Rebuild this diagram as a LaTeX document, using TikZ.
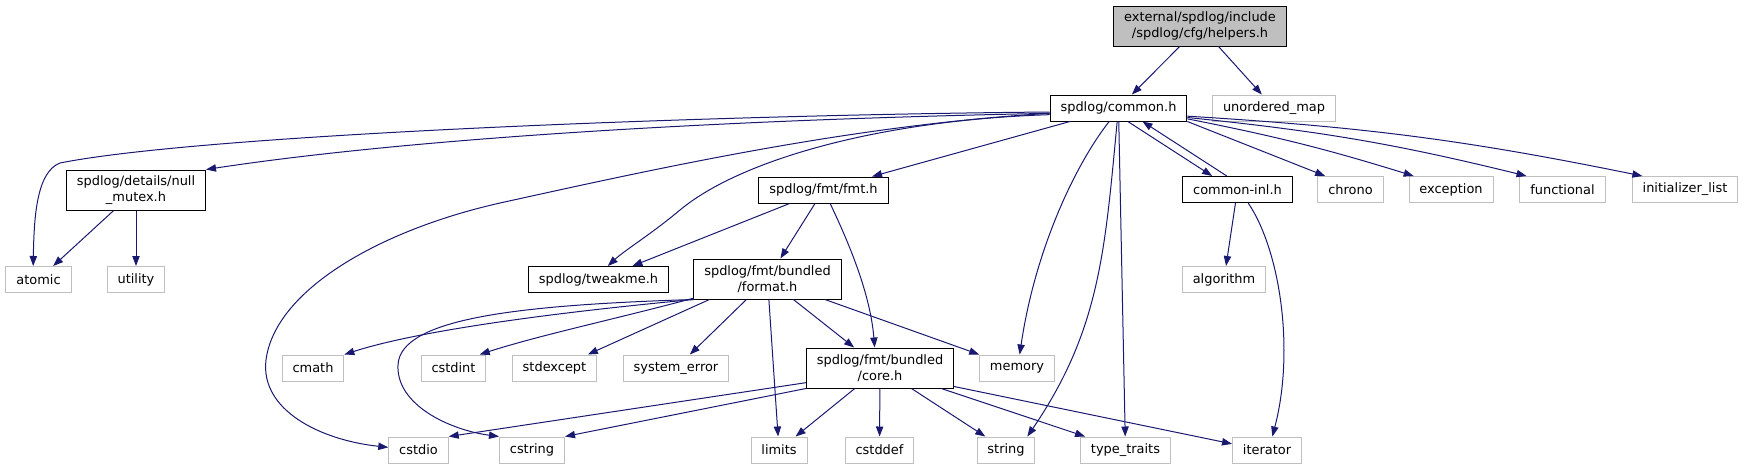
\documentclass[tikz,border=0pt]{standalone}
\usepackage{fontspec}
\setmainfont{DejaVu Sans}
\usetikzlibrary{arrows.meta}
\definecolor{edgeblue}{RGB}{25,25,112}
\definecolor{grey75}{RGB}{191,191,191}
\begin{document}
\begin{tikzpicture}[x=0.75pt, y=-0.75pt, >={Triangle[length=7.5pt,width=5.5pt]},
  doc/.style={draw=black, line width=0.75pt, inner xsep=7.8pt, minimum height=19.5pt,
    align=center, font=\fontsize{9.7}{11.7}\selectfont},
  sys/.style={doc, draw=grey75},
  two/.style={minimum height=30pt},
  dep/.style={->, draw=edgeblue, line width=0.75pt}]
  \useasboundingbox (0,0) rectangle (1746,469);
  % row 1 and 2
  \node[doc, two, fill=grey75] (helpers) at (1200,26) {external/spdlog/include\\/spdlog/cfg/helpers.h};
  \node[doc] (common) at (1118.5,108) {spdlog/common.h};
  \node[sys] (umap) at (1274,108) {unordered\_map};
  % row 3
  \node[doc, two] (nullmutex) at (136,190) {spdlog/details/null\\\_mutex.h};
  \node[doc] (fmt) at (823.5,190) {spdlog/fmt/fmt.h};
  \node[doc] (commoninl) at (1237.5,189.5) {common-inl.h};
  \node[sys] (chrono) at (1350.5,189.5) {chrono};
  \node[sys] (exception) at (1451,189.5) {exception};
  \node[sys] (functional) at (1562.5,189.5) {functional};
  \node[sys] (initlist) at (1685,189.5) {initializer\_list};
  % row 4
  \node[sys] (atomic) at (38.5,279.5) {atomic};
  \node[sys] (utility) at (136,279.5) {utility};
  \node[doc] (tweakme) at (598.5,279.5) {spdlog/tweakme.h};
  \node[doc, two] (format) at (767.5,279) {spdlog/fmt/bundled\\/format.h};
  \node[sys] (algorithm) at (1224,279.5) {algorithm};
  % row 5
  \node[sys] (cmath) at (313,368) {cmath};
  \node[sys] (cstdint) at (453.5,368) {cstdint};
  \node[sys] (stdexcept) at (554.5,368) {stdexcept};
  \node[sys] (syserror) at (676,368) {system\_error};
  \node[doc, two] (core) at (880,368) {spdlog/fmt/bundled\\/core.h};
  \node[sys] (memory) at (1017,368) {memory};
  % row 6
  \node[sys] (cstdio) at (418.5,450) {cstdio};
  \node[sys] (cstring) at (532,450) {cstring};
  \node[sys] (limits) at (779,450) {limits};
  \node[sys] (cstddef) at (879.5,450) {cstddef};
  \node[sys] (string) at (1006,450) {string};
  \node[sys] (typetraits) at (1125.5,450) {type\_traits};
  \node[sys] (iterator) at (1267,450) {iterator};
  % helpers.h
  \draw[dep] (helpers) -- (common);
  \draw[dep] (helpers) -- (umap);
  % common.h
  \draw[dep] ([yshift=-3pt]common.west) .. controls (700,115) and (200,135) .. (60,163)
    .. controls (36,172) and (34,220) .. ([xshift=-4pt]atomic.north);
  \draw[dep] ([yshift=-4pt]common.west) .. controls (700,120) and (400,140) .. (nullmutex.north east);
  \draw[dep] ([yshift=-4pt]common.west) .. controls (850,125) and (650,170) .. (500,203)
    .. controls (380,230) and (275,290) .. (266,360)
    .. controls (260,410) and (320,440) .. ([yshift=2pt]cstdio.west);
  \draw[dep] ([yshift=-5pt]common.west) .. controls (880,120) and (740,160) .. (680,210)
    .. controls (650,235) and (625,250) .. ([xshift=7pt]tweakme.north);
  \draw[dep] (common) -- (fmt);
  \draw[dep] ([xshift=-7pt]common.south) .. controls (1075,165) and (1035,250) .. ([xshift=2pt]memory.north);
  \draw[dep] ([xshift=-1pt]common.south) .. controls (1105,250) and (1100,330) .. ([xshift=16pt]string.north);
  \draw[dep] (common) -- (typetraits);
  \draw[dep] ([xshift=7pt]common.south) -- ([xshift=-19pt]commoninl.north);
  \draw[dep] (common.south east) -- ([xshift=-19pt]chrono.north);
  \draw[dep] ([yshift=2pt]common.south east) to[bend left=3] ([xshift=-28pt]exception.north);
  \draw[dep] ([yshift=3pt]common.south east) to[bend left=4] ([xshift=-27pt]functional.north);
  \draw[dep] ([yshift=4pt]common.south east) to[bend left=4] ([xshift=-32pt]initlist.north);
  % null_mutex.h, fmt.h, common-inl.h
  \draw[dep] (nullmutex) -- (atomic);
  \draw[dep] (nullmutex) -- (utility);
  \draw[dep] (fmt) -- (tweakme);
  \draw[dep] (fmt) -- (format);
  \draw[dep] ([xshift=5pt]fmt.south) .. controls (845,235) and (870,290) .. ([xshift=-4pt]core.north);
  \draw[dep] ([xshift=-8pt]commoninl.north) -- ([xshift=18pt]common.south);
  \draw[dep] (commoninl) -- (algorithm);
  \draw[dep] ([xshift=8pt]commoninl.south) .. controls (1280,250) and (1295,350) .. ([xshift=4pt]iterator.north);
  % format.h
  \draw[dep] (format.south west) .. controls (560,312) and (420,330) .. (cmath.north east);
  \draw[dep] (format.south west) .. controls (520,305) and (400,318) .. (398,365)
    .. controls (396,405) and (450,430) .. (cstring.north west);
  \draw[dep] ([yshift=1pt]format.south west) .. controls (620,318) and (540,335) .. ([xshift=-5pt]cstdint.north east);
  \draw[dep] ([xshift=12pt]format.south west) -- ([xshift=-7pt]stdexcept.north east);
  \draw[dep] (format) -- (syserror);
  \draw[dep] (format) -- (limits);
  \draw[dep] (format) -- (core);
  \draw[dep] (format) -- (memory);
  % core.h
  \draw[dep] ([yshift=-11pt]core.west) -- (cstdio.north east);
  \draw[dep] (core.south west) -- (cstring.north east);
  \draw[dep] (core) -- (limits);
  \draw[dep] (core) -- (cstddef);
  \draw[dep] (core) -- (string);
  \draw[dep] (core) -- (typetraits);
  \draw[dep] ([yshift=1.5pt]core.south east) -- (iterator.170);
\end{tikzpicture}
\end{document}
